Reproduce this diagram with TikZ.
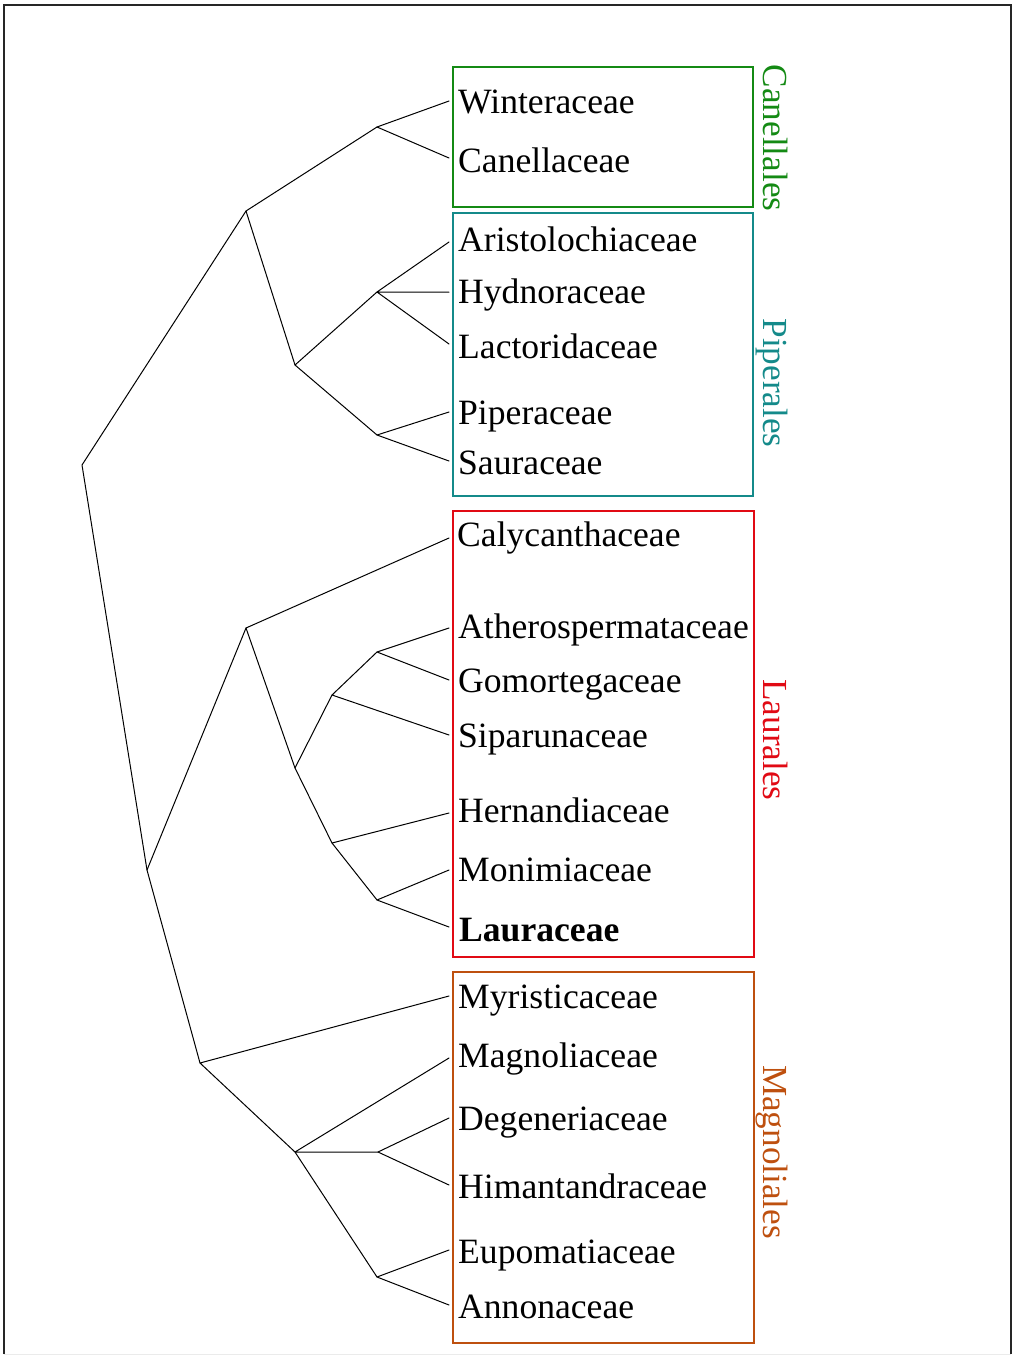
\documentclass[tikz,border=0pt]{standalone}
\usepackage{fontspec}
\setmainfont{Liberation Serif}
\usepackage{xcolor}
\usepackage{tikz}

\definecolor{cangreen}{RGB}{20,138,20}
\definecolor{pipteal}{RGB}{20,138,138}
\definecolor{laured}{RGB}{225,10,20}
\definecolor{magbrown}{RGB}{190,80,15}

\tikzset{
  branch/.style={line width=1pt, line cap=round, line join=round},
  taxon/.style={anchor=base west, inner sep=0pt, font=\fontsize{35.6}{40}\selectfont},
  orderbox/.style={line width=2.4pt},
  ordername/.style={rotate=-90, anchor=base, inner sep=0pt, font=\fontsize{35.2}{40}\selectfont}
}

\begin{document}
\begin{tikzpicture}[x=1pt, y=-1pt]
  \useasboundingbox (0,0) rectangle (1013,1355);
  % outer frame
  \draw[line width=1.3pt, black!85] (4,1354) -- (4,5) -- (1011,5) -- (1011,1354);
  \draw[line width=1pt, black!8] (4,1354) -- (1011,1354);

  % order boxes
  \draw[orderbox, cangreen] (453,67) rectangle (753,207);
  \draw[orderbox, pipteal] (453,213) rectangle (753,496);
  \draw[orderbox, laured] (453,511) rectangle (754,957);
  \draw[orderbox, magbrown] (453,972) rectangle (754,1343);

  % inner nodes of the tree
  \coordinate (root) at (82,465);
  \coordinate (nA) at (246,211);
  \coordinate (nCan) at (377,127);
  \coordinate (nPip) at (295,365);
  \coordinate (nAHL) at (377,292);
  \coordinate (nPS) at (377,435);
  \coordinate (nB) at (147,870);
  \coordinate (nLau) at (246,628);
  \coordinate (nL1) at (295,768);
  \coordinate (nL2) at (332,695);
  \coordinate (nAG) at (377,652);
  \coordinate (nL3) at (332,843);
  \coordinate (nML) at (377,900);
  \coordinate (nMag) at (200,1063);
  \coordinate (nM1) at (295,1152);
  \coordinate (nDH) at (378,1152);
  \coordinate (nEA) at (377,1277);

  % tips
  \coordinate (tWin) at (449,101);
  \coordinate (tCan) at (449,158);
  \coordinate (tAri) at (449,242);
  \coordinate (tHyd) at (449,292);
  \coordinate (tLac) at (449,344);
  \coordinate (tPip) at (449,412);
  \coordinate (tSau) at (449,461);
  \coordinate (tCal) at (449,538);
  \coordinate (tAth) at (449,628);
  \coordinate (tGom) at (449,680);
  \coordinate (tSip) at (449,735);
  \coordinate (tHer) at (449,813);
  \coordinate (tMon) at (449,870);
  \coordinate (tLaur) at (449,927);
  \coordinate (tMyr) at (449,996);
  \coordinate (tMagn) at (449,1058);
  \coordinate (tDeg) at (449,1118);
  \coordinate (tHim) at (449,1185);
  \coordinate (tEup) at (449,1250);
  \coordinate (tAnn) at (449,1305);

  % branches
  \draw[branch] (nA) -- (root) -- (nB);
  \draw[branch] (nCan) -- (nA) -- (nPip);
  \draw[branch] (tWin) -- (nCan) -- (tCan);
  \draw[branch] (nAHL) -- (nPip) -- (nPS);
  \draw[branch] (nAHL) -- (tAri) (nAHL) -- (tHyd) (nAHL) -- (tLac);
  \draw[branch] (tPip) -- (nPS) -- (tSau);
  \draw[branch] (nLau) -- (nB) -- (nMag);
  \draw[branch] (tCal) -- (nLau) -- (nL1);
  \draw[branch] (nL2) -- (nL1) -- (nL3);
  \draw[branch] (nAG) -- (nL2) -- (tSip);
  \draw[branch] (tAth) -- (nAG) -- (tGom);
  \draw[branch] (tHer) -- (nL3) -- (nML);
  \draw[branch] (tMon) -- (nML) -- (tLaur);
  \draw[branch] (tMyr) -- (nMag) -- (nM1);
  \draw[branch] (nM1) -- (tMagn) (nM1) -- (nDH) (nM1) -- (nEA);
  \draw[branch] (tDeg) -- (nDH) -- (tHim);
  \draw[branch] (tEup) -- (nEA) -- (tAnn);

  % taxa
  \node[taxon] (win) at (458,113) {Winteraceae};
  \node[taxon] (can) at (458,172) {Canellaceae};
  \node[taxon] (ari) at (458,251) {Aristolochiaceae};
  \node[taxon] (hyd) at (458,303) {Hydnoraceae};
  \node[taxon] (lac) at (458,358) {Lactoridaceae};
  \node[taxon] (pip) at (458,424) {Piperaceae};
  \node[taxon] (sau) at (458,474) {Sauraceae};
  \node[taxon] (cal) at (457,546) {Calycanthaceae};
  \node[taxon] (ath) at (458,638) {Atherospermataceae};
  \node[taxon] (gom) at (458,692) {Gomortegaceae};
  \node[taxon] (sip) at (458,747) {Siparunaceae};
  \node[taxon] (her) at (458,822) {Hernandiaceae};
  \node[taxon] (mon) at (458,881) {Monimiaceae};
  \node[taxon] (laur) at (459,941) {\bfseries Lauraceae};
  \node[taxon] (myr) at (458,1008) {Myristicaceae};
  \node[taxon] (magn) at (458,1067) {Magnoliaceae};
  \node[taxon] (deg) at (458,1130) {Degeneriaceae};
  \node[taxon] (him) at (458,1198) {Himantandraceae};
  \node[taxon] (eup) at (458,1263) {Eupomatiaceae};
  \node[taxon] (ann) at (458,1318) {Annonaceae};

  % orders
  \node[ordername, cangreen] (canellales) at (763,138) {Canellales};
  \node[ordername, pipteal] (piperales) at (763,383) {Piperales};
  \node[ordername, laured] (laurales) at (763,740) {Laurales};
  \node[ordername, magbrown] (magnoliales) at (763,1152) {Magnoliales};
\end{tikzpicture}
\end{document}
